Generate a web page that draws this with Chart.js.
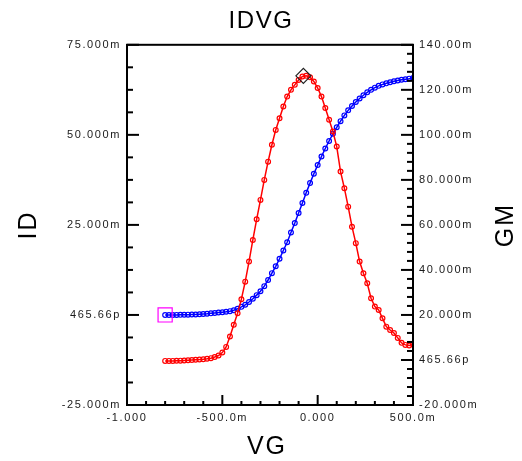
<!DOCTYPE html>
<html>
<head>
<meta charset="utf-8">
<title>IDVG</title>
<script src="https://cdn.jsdelivr.net/npm/chart.js@4.4.1/dist/chart.umd.min.js"></script>
<style>
  html, body { margin: 0; padding: 0; background: #fff; }
</style>
</head>
<body>
<canvas id="chart" width="522" height="461"></canvas>
<script>
// gate voltage sweep (V)
var vg = [-0.80,-0.78,-0.76,-0.74,-0.72,-0.70,-0.68,-0.66,-0.64,-0.62,
          -0.60,-0.58,-0.56,-0.54,-0.52,-0.50,-0.48,-0.46,-0.44,-0.42,
          -0.40,-0.38,-0.36,-0.34,-0.32,-0.30,-0.28,-0.26,-0.24,-0.22,
          -0.20,-0.18,-0.16,-0.14,-0.12,-0.10,-0.08,-0.06,-0.04,-0.02,
           0.00, 0.02, 0.04, 0.06, 0.08, 0.10, 0.12, 0.14, 0.16, 0.18,
           0.20, 0.22, 0.24, 0.26, 0.28, 0.30, 0.32, 0.34, 0.36, 0.38,
           0.40, 0.42, 0.44, 0.46, 0.48, 0.50];
// drain current, mA (left axis)
var id = [0.00,0.00,0.00,0.01,0.03,0.05,0.08,0.11,0.14,0.19,
          0.25,0.33,0.44,0.56,0.66,0.76,0.87,1.05,1.32,1.70,
          2.25,2.82,3.60,4.50,5.50,6.60,8.00,9.70,11.6,13.5,
          15.6,17.9,20.2,22.9,25.5,28.3,31.1,33.9,36.6,39.2,
          41.6,44.0,46.2,48.3,50.3,52.1,53.8,55.4,56.8,58.0,
          59.1,60.1,61.0,61.8,62.5,63.1,63.6,64.0,64.3,64.6,
          64.9,65.1,65.3,65.45,65.6,65.8];
// transconductance, mS (right axis)
var gm = [-0.4,-0.4,-0.4,-0.35,-0.3,-0.2,-0.1,0.0,0.1,0.2,
          0.35,0.55,0.8,1.3,2.0,3.3,5.8,10.4,15.6,20.8,
          27.0,34.8,43.7,53.3,62.5,71.1,80.0,88.1,95.6,102.2,
          107.4,112.6,117.0,120.0,122.2,124.4,125.9,126.2,125.6,123.7,
          120.8,117.0,111.9,106.7,101.5,94.8,83.7,76.3,68.1,59.2,
          51.9,43.7,38.5,34.1,27.4,23.7,22.2,18.5,14.8,13.3,
          12.0,9.8,7.6,6.7,6.4,6.9];

// cursor markers
var markerVg = [-0.80];
var markerId = [0.0];
var peakVg = [-0.075];
var peakGm = [126.2];

// tick labels
var xTicks = [-1, -0.5, 0, 0.5];
var xLabels = ['-1.000', '-500.0m', '0.000', '500.0m'];
var idTicks = [-25, 0, 25, 50, 75];
var idLabels = ['-25.000m', '465.66p', '25.000m', '50.000m', '75.000m'];
var gmTicks = [-20, 0, 20, 40, 60, 80, 100, 120, 140];
var gmLabels = ['-20.000m', '465.66p', '20.000m', '40.000m', '60.000m', '80.000m', '100.00m', '120.00m', '140.00m'];

function pick(vals, labels) {
  return function (v) {
    for (var i = 0; i < vals.length; i++) {
      if (Math.abs(vals[i] - v) < 1e-6) return labels[i];
    }
    return '';
  };
}

function pts(xs, ys) {
  return xs.map(function (x, i) { return { x: x, y: ys[i] }; });
}

var tickFont = { family: 'Liberation Sans, Arial, sans-serif', size: 11 };

// frame, inward ticks and rotated axis titles
var decor = {
  id: 'decor',
  beforeDraw: function (chart) {
    chart.ctx.letterSpacing = '1.6px';
  },
  afterDraw: function (chart) {
    var ctx = chart.ctx, a = chart.chartArea, s = chart.scales;
    ctx.save();
    ctx.strokeStyle = '#000';
    ctx.lineWidth = 2;
    ctx.strokeRect(a.left, a.top, a.right - a.left, a.bottom - a.top);

    function ticks(scale, step, majorEvery, side) {
      var n = Math.round((scale.max - scale.min) / step);
      for (var i = 0; i <= n; i++) {
        var v = scale.min + i * step;
        var len = (i % majorEvery === 0) ? 12 : 6;
        var p = scale.getPixelForValue(v);
        ctx.beginPath();
        if (side === 'left') { ctx.moveTo(a.left, p); ctx.lineTo(a.left + len, p); }
        if (side === 'right') { ctx.moveTo(a.right, p); ctx.lineTo(a.right - len, p); }
        if (side === 'bottom') { ctx.moveTo(p, a.bottom); ctx.lineTo(p, a.bottom - len + 2); }
        ctx.stroke();
      }
    }
    ticks(s.y, 6.25, 4, 'left');
    ticks(s.y1, 4, 5, 'right');
    ticks(s.x, 0.1, 5, 'bottom');

    ctx.fillStyle = '#000';
    ctx.letterSpacing = '2px';
    ctx.font = '25px "Liberation Sans", Arial, sans-serif';
    ctx.textAlign = 'center';
    ctx.textBaseline = 'middle';
    ctx.fillText('VG', 267, 447);
    ctx.save();
    ctx.translate(29, 225);
    ctx.rotate(-Math.PI / 2);
    ctx.fillText('ID', 0, 0);
    ctx.restore();
    ctx.save();
    ctx.translate(506, 225);
    ctx.rotate(-Math.PI / 2);
    ctx.fillText('GM', 0, 0);
    ctx.restore();
    ctx.restore();
  }
};

var ctx = document.getElementById('chart').getContext('2d');
var chart = new Chart(ctx, {
  type: 'scatter',
  data: {
    datasets: [
      {
        label: 'marker',
        data: pts(markerVg, markerId),
        yAxisID: 'y',
        pointStyle: 'rect',
        pointRadius: 10,
        borderColor: '#ff00ff',
        backgroundColor: 'rgba(0,0,0,0)',
        borderWidth: 1.2,
        order: 0
      },
      {
        label: 'peak',
        data: pts(peakVg, peakGm),
        yAxisID: 'y1',
        pointStyle: 'rectRot',
        pointRadius: 7.5,
        borderColor: '#222',
        backgroundColor: 'rgba(0,0,0,0)',
        borderWidth: 1.2,
        order: 0
      },
      {
        label: 'GM',
        data: pts(vg, gm),
        yAxisID: 'y1',
        showLine: true,
        borderColor: '#ff0000',
        backgroundColor: 'rgba(0,0,0,0)',
        borderWidth: 1.5,
        pointRadius: 2.4,
        pointBorderWidth: 1.2,
        pointBorderColor: '#ff0000',
        order: 1
      },
      {
        label: 'ID',
        data: pts(vg, id),
        yAxisID: 'y',
        showLine: true,
        borderColor: '#0000ff',
        backgroundColor: 'rgba(0,0,0,0)',
        borderWidth: 1.5,
        pointRadius: 2.4,
        pointBorderWidth: 1.2,
        pointBorderColor: '#0000ff',
        order: 2
      }
    ]
  },
  options: {
    responsive: false,
    animation: false,
    layout: { padding: 0, autoPadding: false },
    plugins: {
      legend: { display: false },
      tooltip: { enabled: false },
      title: {
        display: true,
        text: 'IDVG',
        color: '#000',
        font: { family: 'Liberation Sans, Arial, sans-serif', size: 24, weight: 'normal' },
        padding: { top: 7, bottom: 9 }
      }
    },
    scales: {
      x: {
        type: 'linear',
        position: 'bottom',
        min: -1,
        max: 0.5,
        afterFit: function (sc) { sc.height = 56; },
        grid: { display: false, drawTicks: false },
        border: { display: false },
        ticks: { stepSize: 0.5, padding: 6, color: '#1a1a1a', font: tickFont, maxRotation: 0,
                 callback: pick(xTicks, xLabels) }
      },
      y: {
        type: 'linear',
        position: 'left',
        min: -25,
        max: 75,
        afterFit: function (sc) { sc.width = 127; },
        grid: { display: false, drawTicks: false },
        border: { display: false },
        ticks: { stepSize: 25, padding: 6, color: '#1a1a1a', font: tickFont,
                 callback: pick(idTicks, idLabels) }
      },
      y1: {
        type: 'linear',
        position: 'right',
        min: -20,
        max: 140,
        afterFit: function (sc) { sc.width = 109; },
        grid: { display: false, drawTicks: false },
        border: { display: false },
        ticks: { stepSize: 20, padding: 6, color: '#1a1a1a', font: tickFont,
                 callback: pick(gmTicks, gmLabels) }
      }
    }
  },
  plugins: [decor]
});
</script>
</body>
</html>
